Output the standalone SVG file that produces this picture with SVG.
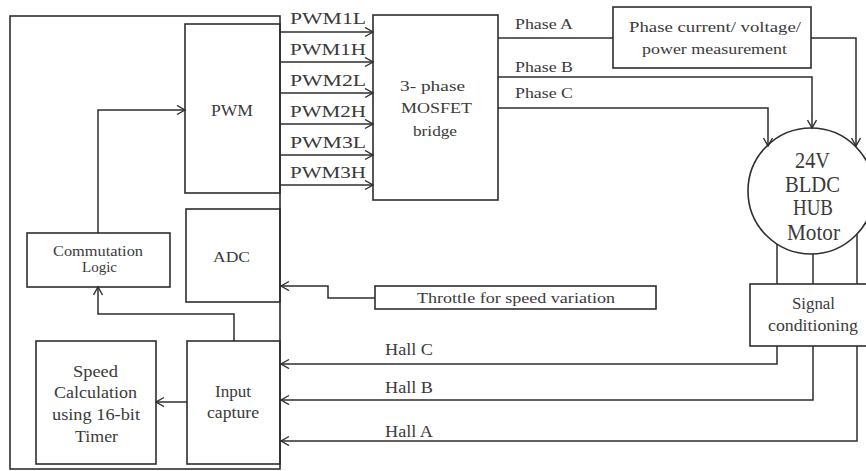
<svg xmlns="http://www.w3.org/2000/svg" width="866" height="471" viewBox="0 0 866 471" font-family="'Liberation Serif', 'DejaVu Serif', serif">
<defs>
<marker id="arr" markerUnits="userSpaceOnUse" markerWidth="12" markerHeight="12" refX="9" refY="5" orient="auto">
<path d="M1,0.5 L9,5 L1,9.5" fill="none" stroke="#2e2e2e" stroke-width="1.4"/>
</marker>
<style>
.b{fill:none;stroke:#2e2e2e;stroke-width:1.6}
.c{fill:none;stroke:#2e2e2e;stroke-width:1.5}
.a{marker-end:url(#arr)}
text{font-family:'Liberation Serif','DejaVu Serif',serif;fill:#3a3a3a}
.m{text-anchor:middle}
</style>
</defs>
<rect width="866" height="471" fill="#ffffff"/>

<g id="mcu">
<rect class="b" x="10" y="16" width="270" height="453"/>
</g>
<g id="pwm">
<rect class="b" x="185" y="24" width="95" height="169"/>
<text class="m" x="232" y="116" font-size="16" textLength="42" lengthAdjust="spacingAndGlyphs">PWM</text>
</g>
<g id="adc">
<rect class="b" x="186" y="209" width="94" height="93"/>
<text class="m" x="231.5" y="262" font-size="15" textLength="37" lengthAdjust="spacingAndGlyphs">ADC</text>
</g>
<g id="commutation">
<rect class="b" x="27" y="233" width="143" height="54"/>
<text class="m" x="98" y="256" font-size="15" textLength="90" lengthAdjust="spacingAndGlyphs">Commutation</text>
<text class="m" x="99.5" y="272" font-size="15" textLength="35" lengthAdjust="spacingAndGlyphs">Logic</text>
</g>
<g id="speed">
<rect class="b" x="36" y="341" width="120" height="123"/>
<text class="m" x="95.5" y="377" font-size="16" textLength="45" lengthAdjust="spacingAndGlyphs">Speed</text>
<text class="m" x="95.5" y="398" font-size="16" textLength="83" lengthAdjust="spacingAndGlyphs">Calculation</text>
<text class="m" x="96" y="420" font-size="16" textLength="88" lengthAdjust="spacingAndGlyphs">using 16-bit</text>
<text class="m" x="96.5" y="442" font-size="16" textLength="43" lengthAdjust="spacingAndGlyphs">Timer</text>
</g>
<g id="inputcapture">
<rect class="b" x="187" y="341" width="93" height="123"/>
<text class="m" x="233" y="397" font-size="16" textLength="36" lengthAdjust="spacingAndGlyphs">Input</text>
<text class="m" x="233" y="418" font-size="16" textLength="52" lengthAdjust="spacingAndGlyphs">capture</text>
</g>
<g id="mosfet">
<rect class="b" x="373" y="15" width="125" height="185"/>
<text class="m" x="432.5" y="91" font-size="15" textLength="65" lengthAdjust="spacingAndGlyphs">3- phase</text>
<text class="m" x="436.5" y="113" font-size="15" textLength="71" lengthAdjust="spacingAndGlyphs">MOSFET</text>
<text class="m" x="435" y="136" font-size="15" textLength="44" lengthAdjust="spacingAndGlyphs">bridge</text>
</g>
<g id="measurement">
<rect class="b" x="613" y="7" width="198" height="61"/>
<text class="m" x="715" y="32" font-size="14.5" textLength="172" lengthAdjust="spacingAndGlyphs">Phase current/ voltage/</text>
<text class="m" x="714.5" y="54" font-size="14.5" textLength="145" lengthAdjust="spacingAndGlyphs">power measurement</text>
</g>
<g id="motor">
<circle class="b" cx="811" cy="191" r="63"/>
<text class="m" x="812.5" y="168" font-size="23" textLength="35" lengthAdjust="spacingAndGlyphs">24V</text>
<text class="m" x="812.5" y="192" font-size="23" textLength="55" lengthAdjust="spacingAndGlyphs">BLDC</text>
<text class="m" x="813" y="215" font-size="23" textLength="40" lengthAdjust="spacingAndGlyphs">HUB</text>
<text class="m" x="813.5" y="240" font-size="23" textLength="53" lengthAdjust="spacingAndGlyphs">Motor</text>
</g>
<g id="signal">
<rect class="b" x="750" y="284" width="120" height="62"/>
<text class="m" x="813.5" y="309" font-size="16" textLength="43" lengthAdjust="spacingAndGlyphs">Signal</text>
<text class="m" x="813" y="331" font-size="16" textLength="90" lengthAdjust="spacingAndGlyphs">conditioning</text>
</g>
<g id="throttle">
<rect class="b" x="375" y="286" width="281" height="23"/>
<text x="417" y="303" font-size="15.5" textLength="198" lengthAdjust="spacingAndGlyphs">Throttle for speed variation</text>
</g>

<g id="connectors">
<path class="c a" d="M98,233 V110 H185"/>
<path class="c a" d="M234,341 V314 H98 V287"/>
<path class="c a" d="M187,402 H156"/>
<path class="c a" d="M280,32 H373"/>
<path class="c a" d="M280,62 H373"/>
<path class="c a" d="M280,93 H373"/>
<path class="c a" d="M280,124 H373"/>
<path class="c a" d="M280,155 H373"/>
<path class="c a" d="M280,185 H373"/>
<path class="c" d="M498,38 H613"/>
<path class="c a" d="M498,77 H812 V128"/>
<path class="c a" d="M498,108 H768 V146"/>
<path class="c a" d="M811,38 H856 V146"/>
<path class="c" d="M777,244 V284 M813,254 V284 M857,234 V284"/>
<path class="c a" d="M777,346 V364 H281"/>
<path class="c a" d="M813,346 V400 H281"/>
<path class="c a" d="M857,346 V441 H281"/>
<path class="c a" d="M375,298 H328 V286 H281"/>
</g>
<g id="labels">
<text x="290" y="24" font-size="16" textLength="76" lengthAdjust="spacingAndGlyphs">PWM1L</text>
<text x="290" y="55" font-size="16" textLength="76" lengthAdjust="spacingAndGlyphs">PWM1H</text>
<text x="290" y="86" font-size="16" textLength="76" lengthAdjust="spacingAndGlyphs">PWM2L</text>
<text x="290" y="117" font-size="16" textLength="76" lengthAdjust="spacingAndGlyphs">PWM2H</text>
<text x="290" y="148" font-size="16" textLength="76" lengthAdjust="spacingAndGlyphs">PWM3L</text>
<text x="290" y="178" font-size="16" textLength="76" lengthAdjust="spacingAndGlyphs">PWM3H</text>
<text x="515" y="29" font-size="15.5" textLength="58" lengthAdjust="spacingAndGlyphs">Phase A</text>
<text x="515" y="72" font-size="15.5" textLength="58" lengthAdjust="spacingAndGlyphs">Phase B</text>
<text x="515" y="98" font-size="15.5" textLength="58" lengthAdjust="spacingAndGlyphs">Phase C</text>
<text x="385" y="355" font-size="16" textLength="48" lengthAdjust="spacingAndGlyphs">Hall C</text>
<text x="385" y="393" font-size="16" textLength="48" lengthAdjust="spacingAndGlyphs">Hall B</text>
<text x="385" y="437" font-size="16" textLength="48" lengthAdjust="spacingAndGlyphs">Hall A</text>
</g>
</svg>
